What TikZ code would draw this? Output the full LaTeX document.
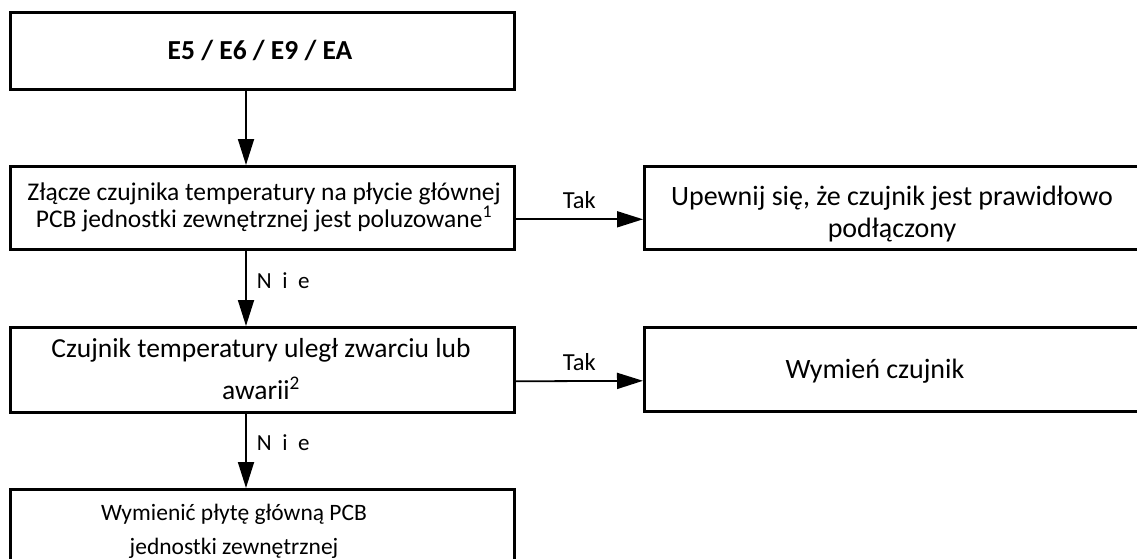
\documentclass[tikz,border=0pt]{standalone}
\usepackage{fontspec}
\setmainfont{Carlito}
\usetikzlibrary{arrows.meta}
% centred lines with a fixed distance between baselines; the box's baseline is the first line's
\newcommand\stk[2]{\vtop{\baselineskip=#1\lineskiplimit=-\maxdimen\lineskip=0pt
  \halign{\hfil##\hfil\cr#2\crcr}}}
\newcommand\fs[1]{\fontsize{#1}{#1}\selectfont}
% widely spaced answer label
\newcommand\nie{{\spaceskip=10.5pt\relax N i e}}
\begin{document}
\begin{tikzpicture}[x=1pt,y=-1pt,
  box/.style={draw, line width=2.6pt, anchor=north west, inner sep=0pt,
    minimum width=504pt},
  txt/.style={inner sep=0pt, anchor=base},
  flow/.style={line width=1.8pt, -{Triangle[length=26pt,width=16pt]}},
  yes/.style={inner sep=0pt, anchor=base, yshift=11pt, font=\fs{24.5}},
  no/.style={inner sep=0pt, anchor=base west, xshift=10pt, font=\fs{23}}]
\useasboundingbox (0,0) rectangle (1137,559);
\fill[white] (0,0) rectangle (1137,559);
\clip (0,0) rectangle (1137,559);

% boxes
\node[box, minimum height=77pt] (start) at (9,11) {};
\node[box, minimum height=83pt] (q1) at (9,165) {};
\node[box, minimum height=83pt] (a1) at (643,165) {};
\node[box, minimum height=85pt] (q2) at (9,326) {};
\node[box, minimum height=84pt] (a2) at (643,326) {};
\node[box, minimum height=90pt] (fix) at (9,488) {};

% box texts
\node[txt, font=\fs{27.5}\bfseries] (start-t) at (260,60) {E5 / E6 / E9 / EA};
\node[txt, font=\fs{25.5}] (q1-t) at (264,200)
  {\stk{27pt}{Złącze czujnika temperatury na płycie głównej\cr
   PCB jednostki zewnętrznej jest poluzowane\textsuperscript{1}}};
\node[txt, font=\fs{28}] (a1-t) at (892,205)
  {\stk{32pt}{Upewnij się, że czujnik jest prawidłowo\cr podłączony}};
\node[txt, font=\fs{27.5}] (q2-t) at (261,357)
  {\stk{42pt}{Czujnik temperatury uległ zwarciu lub\cr awarii\textsuperscript{2}}};
\node[txt, font=\fs{28}] (a2-t) at (875,378) {Wymień czujnik};
\node[txt, font=\fs{23.5}] (fix-t) at (234,520)
  {\stk{34pt}{Wymienić płytę główną PCB\cr jednostki zewnętrznej}};

% connectors
\coordinate (axis) at (246,0);
\draw[flow] (start.south -| axis) -- (q1.north -| axis);
\draw[flow] (q1.south -| axis) -- node[no, pos=0.5] {\nie} (q2.north -| axis);
\draw[flow] (q2.south -| axis) -- node[no, pos=0.5] {\nie} (fix.north -| axis);
\draw[flow] ([yshift=-11.5pt]q1.east) -- node[yes, midway] {Tak} ([yshift=-11.5pt]a1.west);
\draw[flow] ([yshift=-11.5pt]q2.east) -- node[yes, midway] {Tak} ([yshift=-11.5pt]a2.west);
\end{tikzpicture}
\end{document}
